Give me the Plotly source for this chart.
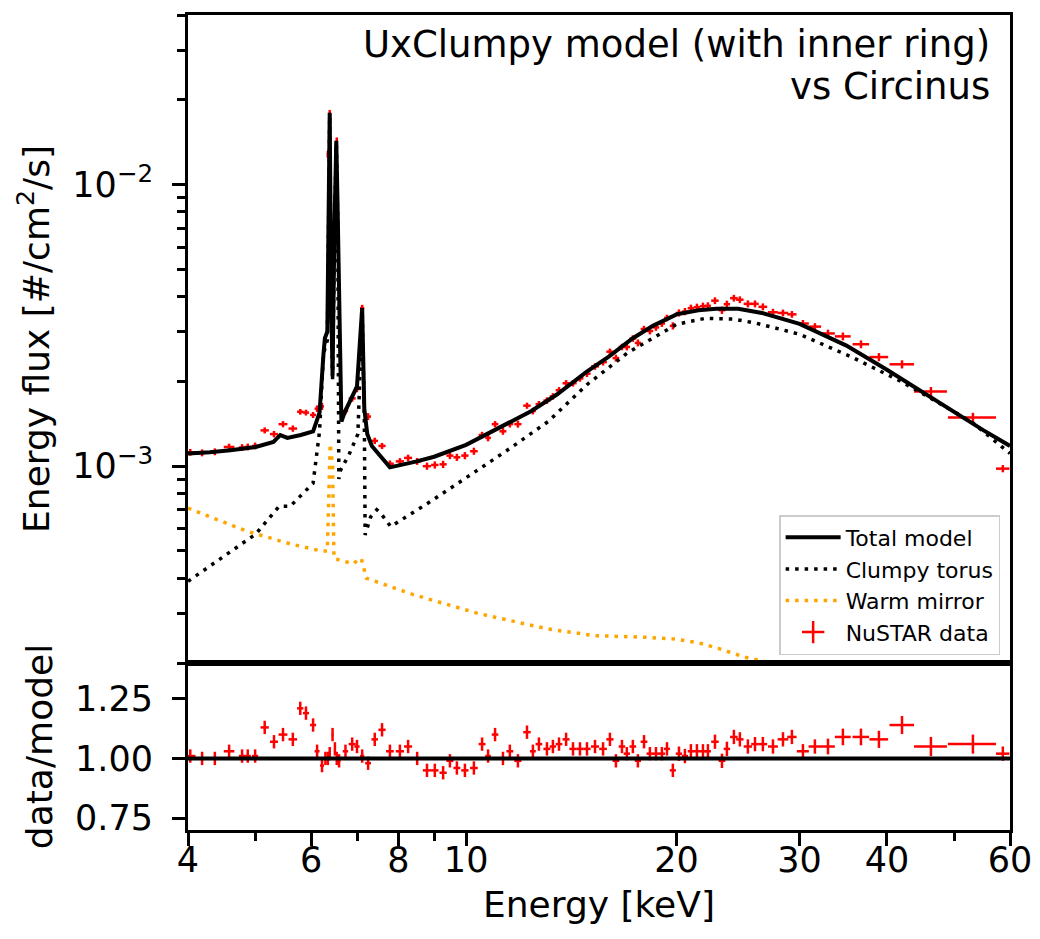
import numpy as np
import plotly.graph_objects as go
from plotly.subplots import make_subplots

# ---------------- model curves (energy in keV, flux in #/cm2/s) ----------------
total_energy = [4.0, 4.3, 4.6, 5.0, 5.3, 5.42, 5.55, 5.8, 6.04, 6.17, 6.25, 6.28, 6.33, 6.36, 6.38,
                6.41, 6.44, 6.48, 6.52, 6.55, 6.58, 6.63, 6.7, 6.85, 6.98, 7.05, 7.10, 7.15, 7.22,
                7.33, 7.55, 7.78, 8.5, 9.0, 10.0, 11.0, 12.4, 13.5, 14.9, 16.0, 17.3, 18.5, 20.0,
                21.5, 22.8, 24.5, 26.5, 30.0, 35.0, 40.0, 45.0, 50.0, 55.0, 60.0]
total_flux = [1.11e-3, 1.12e-3, 1.14e-3, 1.17e-3, 1.22e-3, 1.29e-3, 1.26e-3, 1.29e-3, 1.33e-3, 1.55e-3,
              2.5e-3, 2.85e-3, 3.0e-3, 12.0e-3, 18.0e-3, 4.0e-3, 2.1e-3, 7.0e-3, 14.3e-3, 8.0e-3,
              3.6e-3, 1.44e-3, 1.55e-3, 1.74e-3, 1.92e-3, 2.8e-3, 3.64e-3, 1.6e-3, 1.3e-3, 1.18e-3,
              1.08e-3, 0.99e-3, 1.04e-3, 1.08e-3, 1.19e-3, 1.35e-3, 1.57e-3, 1.8e-3, 2.17e-3, 2.45e-3,
              2.84e-3, 3.15e-3, 3.46e-3, 3.58e-3, 3.62e-3, 3.62e-3, 3.5e-3, 3.2e-3, 2.68e-3, 2.2e-3,
              1.83e-3, 1.55e-3, 1.34e-3, 1.18e-3]

torus_energy = [4.0, 4.4, 5.0, 5.4, 5.6, 6.04, 6.17, 6.22, 6.25, 6.33, 6.36, 6.38, 6.41, 6.44, 6.48,
                6.52, 6.55, 6.575, 6.6, 6.8, 7.0, 7.06, 7.10, 7.15, 7.17, 7.3, 7.45, 7.55, 7.8, 8.9,
                10.0, 11.4, 13.1, 14.9, 17.0, 20.0, 22.0, 24.1, 26.0, 30.0, 35.5, 41.9, 47.0, 52.8, 60.0]
torus_flux = [0.39e-3, 0.46e-3, 0.574e-3, 0.72e-3, 0.72e-3, 0.87e-3, 1.33e-3, 2.0e-3, 2.5e-3, 2.8e-3,
              11.0e-3, 17.5e-3, 3.8e-3, 2.0e-3, 6.8e-3, 14.0e-3, 7.5e-3, 0.9e-3, 0.96e-3, 1.1e-3,
              1.3e-3, 2.6e-3, 3.6e-3, 1.5e-3, 0.57e-3, 0.66e-3, 0.70e-3, 0.68e-3, 0.61e-3, 0.75e-3,
              0.906e-3, 1.13e-3, 1.44e-3, 1.95e-3, 2.52e-3, 3.19e-3, 3.35e-3, 3.33e-3, 3.22e-3,
              2.94e-3, 2.45e-3, 2.0e-3, 1.7e-3, 1.44e-3, 1.11e-3]

mirror_energy = [4.0, 4.85, 5.6, 6.2, 6.33, 6.36, 6.39, 6.44, 6.47, 6.9, 7.03, 7.08, 7.2, 8.4, 10.4,
                 13.1, 15.3, 18.0, 20.0, 21.5, 23.0, 25.0, 27.6, 35.0, 45.0, 60.0]
mirror_flux = [0.71e-3, 0.588e-3, 0.53e-3, 0.50e-3, 0.50e-3, 0.9e-3, 1.2e-3, 1.0e-3, 0.47e-3, 0.45e-3,
               0.47e-3, 0.47e-3, 0.40e-3, 0.35e-3, 0.30e-3, 0.264e-3, 0.25e-3, 0.247e-3, 0.243e-3,
               0.236e-3, 0.225e-3, 0.21e-3, 0.199e-3, 0.17e-3, 0.14e-3, 0.11e-3]

# ---------------- NuSTAR data ----------------
data_energy = [4.03, 4.19, 4.37, 4.58, 4.78, 4.87, 4.99, 5.15, 5.31, 5.47, 5.65, 5.79, 5.90, 6.04,
               6.12, 6.22, 6.29, 6.34, 6.38, 6.44, 6.49, 6.53, 6.58, 6.72, 6.87, 6.98, 7.10, 7.24,
               7.40, 7.58, 7.78, 8.04, 8.26, 8.51, 8.79, 9.02, 9.27, 9.48, 9.70, 9.96, 10.26, 10.54,
               10.75, 11.00, 11.29, 11.55, 11.86, 12.22, 12.46, 12.71, 13.05, 13.31, 13.58, 13.90,
               14.22, 14.55, 14.89, 15.29, 15.70, 16.06, 16.38, 16.71, 16.98, 17.32, 17.61, 17.97,
               18.32, 18.69, 19.06, 19.38, 19.76, 20.16, 20.56, 20.97, 21.39, 21.82, 22.18, 22.70,
               23.23, 23.61, 24.16, 24.64, 25.30, 25.90, 26.58, 27.48, 28.40, 29.25, 30.33, 31.55,
               32.94, 34.60, 36.72, 38.96, 42.04, 46.24, 53.10, 58.60]
data_energy_halfwidth = [0.07, 0.07, 0.07, 0.08, 0.05, 0.05, 0.05, 0.07, 0.07, 0.08, 0.08, 0.06, 0.06,
                         0.06, 0.05, 0.04, 0.03, 0.02, 0.02, 0.02, 0.02, 0.02, 0.03, 0.06, 0.08, 0.06,
                         0.05, 0.07, 0.08, 0.09, 0.10, 0.11, 0.11, 0.12, 0.12, 0.11, 0.11, 0.11, 0.11,
                         0.12, 0.13, 0.12, 0.10, 0.12, 0.13, 0.13, 0.14, 0.15, 0.12, 0.14, 0.15, 0.14,
                         0.15, 0.16, 0.17, 0.17, 0.18, 0.20, 0.20, 0.19, 0.18, 0.18, 0.18, 0.19, 0.18,
                         0.20, 0.20, 0.20, 0.20, 0.19, 0.20, 0.21, 0.21, 0.22, 0.22, 0.22, 0.22, 0.28,
                         0.26, 0.25, 0.30, 0.30, 0.35, 0.32, 0.38, 0.45, 0.50, 0.45, 0.60, 0.65, 0.75,
                         0.90, 1.00, 1.20, 1.70, 2.50, 4.20, 1.30]
data_flux = [1.12e-3, 1.115e-3, 1.125e-3, 1.17e-3, 1.165e-3, 1.17e-3, 1.18e-3, 1.34e-3, 1.30e-3,
             1.41e-3, 1.36e-3, 1.56e-3, 1.55e-3, 1.52e-3, 1.60e-3, 1.63e-3, 2.8e-3, 12.8e-3, 17.9e-3,
             2.17e-3, 7.8e-3, 14.3e-3, 3.7e-3, 1.57e-3, 1.74e-3, 1.88e-3, 3.64e-3, 1.50e-3, 1.23e-3,
             1.18e-3, 1.02e-3, 1.04e-3, 1.07e-3, 1.04e-3, 1.00e-3, 1.01e-3, 1.015e-3, 1.09e-3,
             1.075e-3, 1.09e-3, 1.13e-3, 1.29e-3, 1.26e-3, 1.41e-3, 1.33e-3, 1.41e-3, 1.41e-3,
             1.64e-3, 1.57e-3, 1.66e-3, 1.71e-3, 1.77e-3, 1.86e-3, 1.97e-3, 1.97e-3, 2.05e-3,
             2.13e-3, 2.26e-3, 2.34e-3, 2.55e-3, 2.42e-3, 2.65e-3, 2.65e-3, 2.84e-3, 2.74e-3,
             3.07e-3, 3.02e-3, 3.11e-3, 3.21e-3, 3.36e-3, 3.15e-3, 3.50e-3, 3.54e-3, 3.64e-3,
             3.67e-3, 3.70e-3, 3.71e-3, 3.87e-3, 3.58e-3, 3.76e-3, 3.95e-3, 3.90e-3, 3.77e-3,
             3.77e-3, 3.68e-3, 3.52e-3, 3.50e-3, 3.46e-3, 3.21e-3, 3.13e-3, 2.96e-3, 2.89e-3,
             2.71e-3, 2.44e-3, 2.30e-3, 1.84e-3, 1.49e-3, 0.98e-3]
data_ratio = [1.01, 1.00, 1.00, 1.03, 1.01, 1.01, 1.01, 1.13, 1.07, 1.10, 1.08, 1.21, 1.19, 1.14,
              1.03, 0.97, 1.00, 1.00, 1.02, 1.10, 1.04, 1.00, 0.99, 1.03, 1.06, 1.05, 1.01, 0.98,
              1.08, 1.12, 1.03, 1.03, 1.05, 1.00, 0.95, 0.95, 0.94, 0.99, 0.96, 0.95, 0.96, 1.06,
              1.01, 1.10, 1.00, 1.03, 0.99, 1.11, 1.03, 1.06, 1.04, 1.05, 1.06, 1.08, 1.04, 1.04,
              1.04, 1.05, 1.04, 1.08, 0.99, 1.05, 1.02, 1.05, 0.99, 1.07, 1.02, 1.02, 1.02, 1.04,
              0.95, 1.02, 1.01, 1.03, 1.03, 1.03, 1.03, 1.07, 0.99, 1.04, 1.09, 1.08, 1.05, 1.06,
              1.06, 1.05, 1.08, 1.09, 1.03, 1.05, 1.05, 1.09, 1.09, 1.08, 1.14, 1.05, 1.06, 1.02]
data_ratio_err = [0.028] * 71 + [0.03] * 19 + [0.033, 0.035, 0.035, 0.036, 0.038, 0.04, 0.04, 0.03]

# flux errors follow the same relative size as the ratio errors
data_flux_err = [f * e / r for f, e, r in zip(data_flux, data_ratio_err, data_ratio)]

RED = "#ff0000"
ORANGE = "#ffa500"
FONT = "DejaVu Sans"

fig = make_subplots(rows=2, cols=1, shared_xaxes=True, vertical_spacing=0,
                    row_heights=[0.7951, 0.2049])

err_style = dict(type="data", color=RED, thickness=2.5, width=0)

fig.add_trace(go.Scatter(x=data_energy, y=data_flux, mode="markers",
                         marker=dict(size=1, color=RED),
                         error_x=dict(array=data_energy_halfwidth, **err_style),
                         error_y=dict(array=data_flux_err, **err_style),
                         showlegend=False, hoverinfo="skip"), row=1, col=1)
fig.add_trace(go.Scatter(x=total_energy, y=total_flux, mode="lines", name="Total model",
                         line=dict(color="black", width=4)), row=1, col=1)
fig.add_trace(go.Scatter(x=torus_energy, y=torus_flux, mode="lines", name="Clumpy torus",
                         line=dict(color="black", width=3.5, dash="3.5px,6px")), row=1, col=1)
fig.add_trace(go.Scatter(x=mirror_energy, y=mirror_flux, mode="lines", name="Warm mirror",
                         line=dict(color=ORANGE, width=3.5, dash="3.5px,6px")), row=1, col=1)
fig.add_trace(go.Scatter(x=[None], y=[None], mode="markers", name="NuSTAR data",
                         marker=dict(symbol="cross-thin", size=16, color=RED,
                                     line=dict(color=RED, width=2.5))), row=1, col=1)

fig.add_trace(go.Scatter(x=data_energy, y=data_ratio, mode="markers",
                         marker=dict(size=1, color=RED),
                         error_x=dict(array=data_energy_halfwidth, **err_style),
                         error_y=dict(array=data_ratio_err, **err_style),
                         showlegend=False, hoverinfo="skip"), row=2, col=1)

fig.add_shape(type="line", xref="x2 domain", yref="y2", x0=0, x1=1, y0=1.0, y1=1.0,
              line=dict(color="black", width=4), layer="above")

x_range = [np.log10(4), np.log10(60)]
axis_common = dict(showline=True, mirror=True, linecolor="black", linewidth=3,
                   showgrid=False, zeroline=False, automargin=False)
tickfont = dict(family=FONT, size=35, color="black")
titlefont = dict(family=FONT, size=36, color="black")

fig.update_xaxes(type="log", range=x_range, ticks="", showticklabels=False,
                 row=1, col=1, **axis_common)
fig.update_xaxes(type="log", range=x_range, ticks="outside", ticklen=13, tickwidth=2.5,
                 tickcolor="black", tickmode="array",
                 tickvals=[4, 6, 8, 10, 20, 30, 40, 60],
                 ticktext=["4", "6", "8", "10", "20", "30", "40", "60"],
                 tickfont=tickfont, ticklabelstandoff=-16,
                 minor=dict(tickmode="array", tickvals=[5, 7, 9, 50], ticks="outside",
                            ticklen=8, tickwidth=2.5, tickcolor="black"),
                 title=dict(text="Energy [keV]", font=titlefont, standoff=13),
                 row=2, col=1, **axis_common)

y_minor = [2e-4, 3e-4, 4e-4, 5e-4, 6e-4, 7e-4, 8e-4, 9e-4,
           2e-3, 3e-3, 4e-3, 5e-3, 6e-3, 7e-3, 8e-3, 9e-3, 2e-2, 3e-2, 4e-2]
fig.update_yaxes(type="log", range=[np.log10(2e-4), np.log10(4e-2)],
                 ticks="outside", ticklen=13, tickwidth=2.5, tickcolor="black",
                 tickmode="array", tickvals=[1e-3, 1e-2],
                 ticktext=["10<sup>−3</sup>", "10<sup>−2</sup>"],
                 tickfont=tickfont, ticklabelstandoff=12,
                 minor=dict(tickmode="array", tickvals=y_minor, ticks="outside",
                            ticklen=8, tickwidth=2.5, tickcolor="black"),
                 title=dict(text="Energy flux [#/cm<sup>2</sup>/s]", font=titlefont, standoff=12),
                 row=1, col=1, **axis_common)
fig.update_yaxes(range=[0.70, 1.40], ticks="outside", ticklen=13, tickwidth=2.5,
                 tickcolor="black", tickmode="array", tickvals=[0.75, 1.0, 1.25],
                 ticktext=["0.75", "1.00", "1.25"], tickfont=tickfont, ticklabelstandoff=12,
                 title=dict(text="data/model", font=titlefont, standoff=12),
                 row=2, col=1, **axis_common)

fig.add_annotation(text="UxClumpy model (with inner ring)", xref="paper", yref="paper",
                   x=0.978, y=0.9632, xanchor="right", yanchor="middle", showarrow=False,
                   font=dict(family=FONT, size=37, color="black"))
fig.add_annotation(text="vs Circinus", xref="paper", yref="paper",
                   x=0.978, y=0.9117, xanchor="right", yanchor="middle", showarrow=False,
                   font=dict(family=FONT, size=37, color="black"))

fig.update_layout(
    width=1040, height=939,
    margin=dict(l=188, r=30, t=15, b=109),
    paper_bgcolor="white", plot_bgcolor="white",
    font=dict(family=FONT, color="black"),
    legend=dict(x=0.988, y=0.2147, xanchor="right", yanchor="bottom",
                bgcolor="rgba(255,255,255,0.85)", bordercolor="#cccccc", borderwidth=1.5,
                font=dict(family=FONT, size=22, color="black"), tracegroupgap=0,
                itemwidth=55),
    showlegend=True,
)

fig.write_html("out.html")
